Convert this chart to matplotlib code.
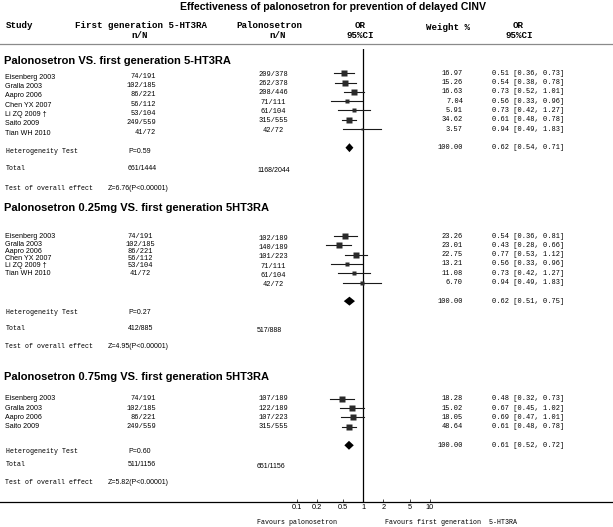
import numpy as np
import matplotlib.pyplot as plt

W, H = 613, 527

# ---- data: Palonosetron VS. first generation 5-HT3RA
studies1 = ['Eisenberg 2003', 'Gralla 2003', 'Aapro 2006', 'Chen YX 2007',
            'Li ZQ 2009 \u2020', 'Saito 2009', 'Tian WH 2010']
first1 = ['74/191', '102/185', '86/221', '56/112', '53/104', '249/559', '41/72']
palo1 = ['209/378', '262/378', '208/446', '71/111', '61/104', '315/555', '42/72']
weight1 = [16.97, 15.26, 16.63, 7.04, 5.91, 34.62, 3.57]
or1 = [0.51, 0.54, 0.73, 0.56, 0.73, 0.61, 0.94]
lo1 = [0.36, 0.38, 0.52, 0.33, 0.42, 0.48, 0.49]
hi1 = [0.73, 0.78, 1.01, 0.96, 1.27, 0.78, 1.83]
pooled1 = [0.62, 0.54, 0.71]
het1, z1 = 'P=0.59', 'Z=6.76(P<0.00001)'
tot_first1, tot_palo1 = '661/1444', '1168/2044'

# ---- data: Palonosetron 0.25mg VS. first generation 5HT3RA
studies2 = ['Eisenberg 2003', 'Gralla 2003', 'Aapro 2006', 'Chen YX 2007',
            'Li ZQ 2009 \u2020', 'Tian WH 2010']
first2 = ['74/191', '102/185', '86/221', '56/112', '53/104', '41/72']
palo2 = ['102/189', '140/189', '101/223', '71/111', '61/104', '42/72']
weight2 = [23.26, 23.01, 22.75, 13.21, 11.08, 6.70]
or2 = [0.54, 0.43, 0.77, 0.56, 0.73, 0.94]
lo2 = [0.36, 0.28, 0.53, 0.33, 0.42, 0.49]
hi2 = [0.81, 0.66, 1.12, 0.96, 1.27, 1.83]
pooled2 = [0.62, 0.51, 0.75]
het2, z2 = 'P=0.27', 'Z=4.95(P<0.00001)'
tot_first2, tot_palo2 = '412/885', '517/888'

# ---- data: Palonosetron 0.75mg VS. first generation 5HT3RA
studies3 = ['Eisenberg 2003', 'Gralla 2003', 'Aapro 2006', 'Saito 2009']
first3 = ['74/191', '102/185', '86/221', '249/559']
palo3 = ['107/189', '122/189', '107/223', '315/555']
weight3 = [18.28, 15.02, 18.05, 48.64]
or3 = [0.48, 0.67, 0.69, 0.61]
lo3 = [0.32, 0.45, 0.47, 0.48]
hi3 = [0.73, 1.02, 1.01, 0.78]
pooled3 = [0.61, 0.52, 0.72]
het3, z3 = 'P=0.60', 'Z=5.82(P<0.00001)'
tot_first3, tot_palo3 = '511/1156', '651/1156'

ticks = [0.1, 0.2, 0.5, 1, 2, 5, 10]
tick_labels = ['0.1', '0.2', '0.5', '1', '2', '5', '10']

MONO = 'Liberation Mono'
SANS = 'Liberation Sans'

fig = plt.figure(figsize=(W / 100, H / 100), dpi=100)
tx = fig.add_axes([0, 0, 1, 1])
tx.set_xlim(0, W)
tx.set_ylim(H, 0)
tx.axis('off')

# layout in pixels
x_one, decade = 363.3, 66.7
top_px, row_px = 73.3, 9.3
axis_px, vtop_px = 501.7, 49.0


def ry(r):
    return top_px + row_px * r


def t(x, y, s, **kw):
    kw.setdefault('family', MONO)
    kw.setdefault('fontsize', 5.0)
    kw.setdefault('va', 'center')
    tx.text(x, y, s, color='black', **kw)


# title + header
t(333, 7, 'Effectiveness of palonosetron for prevention of delayed CINV',
  family=SANS, fontsize=7.6, weight='bold', ha='center')
hdr = dict(fontsize=6.6, weight='bold', family=MONO)
t(6, 25, 'Study', **hdr)
t(75, 25, 'First generation 5-HT3RA', **hdr)
t(140, 35, 'n/N', ha='center', **hdr)
t(269, 25, 'Palonosetron', ha='center', **hdr)
t(278, 35, 'n/N', ha='center', **hdr)
t(360, 25, 'OR', ha='center', **hdr)
t(360, 35, '95%CI', ha='center', **hdr)
t(426, 27, 'Weight %', **hdr)
t(518, 25, 'OR', ha='center', **hdr)
t(519, 35, '95%CI', ha='center', **hdr)
tx.plot([0, W], [43.5, 43.5], color='#8a8a8a', lw=0.9)

# forest axes
fx = fig.add_axes([0, (H - axis_px) / H, 1, (axis_px - vtop_px) / H])
fx.patch.set_alpha(0)
fx.set_xscale('log')
fx.set_xlim(10 ** (-x_one / decade), 10 ** ((W - x_one) / decade))
fx.set_ylim((axis_px - top_px) / row_px, (vtop_px - top_px) / row_px)
for s in ['top', 'left', 'right']:
    fx.spines[s].set_visible(False)
fx.spines['bottom'].set_linewidth(0.9)
fx.set_yticks([])
fx.set_xticks(ticks)
fx.set_xticklabels(tick_labels, family=SANS, fontsize=5.3)
fx.minorticks_off()
fx.tick_params(axis='x', direction='in', length=2, width=0.5, pad=2)
fx.axvline(1, color='black', lw=0.9)

sections = [
    ('Palonosetron VS. first generation 5-HT3RA', studies1, first1, palo1,
     weight1, or1, lo1, hi1, pooled1, het1, z1, tot_first1, tot_palo1),
    ('Palonosetron 0.25mg VS. first generation 5HT3RA', studies2, first2, palo2,
     weight2, or2, lo2, hi2, pooled2, het2, z2, tot_first2, tot_palo2),
    ('Palonosetron 0.75mg VS. first generation 5HT3RA', studies3, first3, palo3,
     weight3, or3, lo3, hi3, pooled3, het3, z3, tot_first3, tot_palo3),
]
# per section layout: header y, first row, diamond row, summary ys
layout = [
    dict(head=61, row0=0.0, drow=8.0, het=151.7, tot=169.0, zz=188.0),
    dict(head=207.7, row0=17.5, drow=24.5, het=312.3, tot=329.0, zz=346.7),
    dict(head=376.7, row0=35.0, drow=40.0, het=451.7, tot=465.0, zz=482.3),
]

for k, (sec, lay) in enumerate(zip(sections, layout)):
    (title, studies, first, palo, weight, ors, lo, hi, pooled,
     het, zt, totf, totp) = sec
    t(4, lay['head'], title, family=SANS, fontsize=8.0, weight='bold')
    rows = lay['row0'] + np.arange(len(studies))
    for i, r in enumerate(rows):
        y = ry(r)
        if k == 0:
            yn, yf, yp = y + 4, y + 3, y + 1
        elif k == 1:
            yn = yf = 236.7 + 7.3 * i
            yp = y + 2.3
        else:
            yn = yf = yp = y
        t(5, yn, studies[i], family=SANS, fontsize=5.1)
        if k == 1:
            t(140, yf, first[i], ha='center', fontsize=5.0)
        else:
            t(156, yf, first[i], ha='right', fontsize=5.0)
        t(273, yp, palo[i], ha='center', fontsize=5.0)
        t(463, y, f'{weight[i]:.2f}', ha='right', fontsize=5.0)
        t(492, y, f'{ors[i]:.2f} [{lo[i]:.2f}, {hi[i]:.2f}]', fontsize=5.0)
        fx.plot([lo[i], hi[i]], [r, r], color='#1a1a1a', lw=0.8)
        side = min(6.0, 1.25 * np.sqrt(weight[i]) + 0.4)
        fx.plot(ors[i], r, marker='s', ms=side * 0.72, color='#2a2a2a', mec='none')
    d = lay['drow']
    p, pl, ph = pooled
    fx.fill([pl, p, ph, p], [d, d - 0.48, d, d + 0.48], color='black', lw=0)
    t(463, ry(d), f'{100:.2f}', ha='right', fontsize=5.0)
    t(492, ry(d), f'{p:.2f} [{pl:.2f}, {ph:.2f}]', fontsize=5.0)
    t(6, lay['het'], 'Heterogeneity Test', fontsize=4.8)
    t(128, lay['het'], het, family=SANS, fontsize=5.0)
    t(6, lay['tot'], 'Total', fontsize=4.8)
    t(128, lay['tot'], totf, family=SANS, fontsize=5.0)
    t(257, lay['tot'] + 1, totp, family=SANS, fontsize=5.0)
    t(5, lay['zz'], 'Test of overall effect', fontsize=4.8)
    t(108, lay['zz'], zt, family=SANS, fontsize=5.0)

t(257, 523, 'Favours palonosetron', fontsize=4.8)
t(385, 523, 'Favours first generation  5-HT3RA', fontsize=4.8)

fig.savefig('out.png', dpi=100)
